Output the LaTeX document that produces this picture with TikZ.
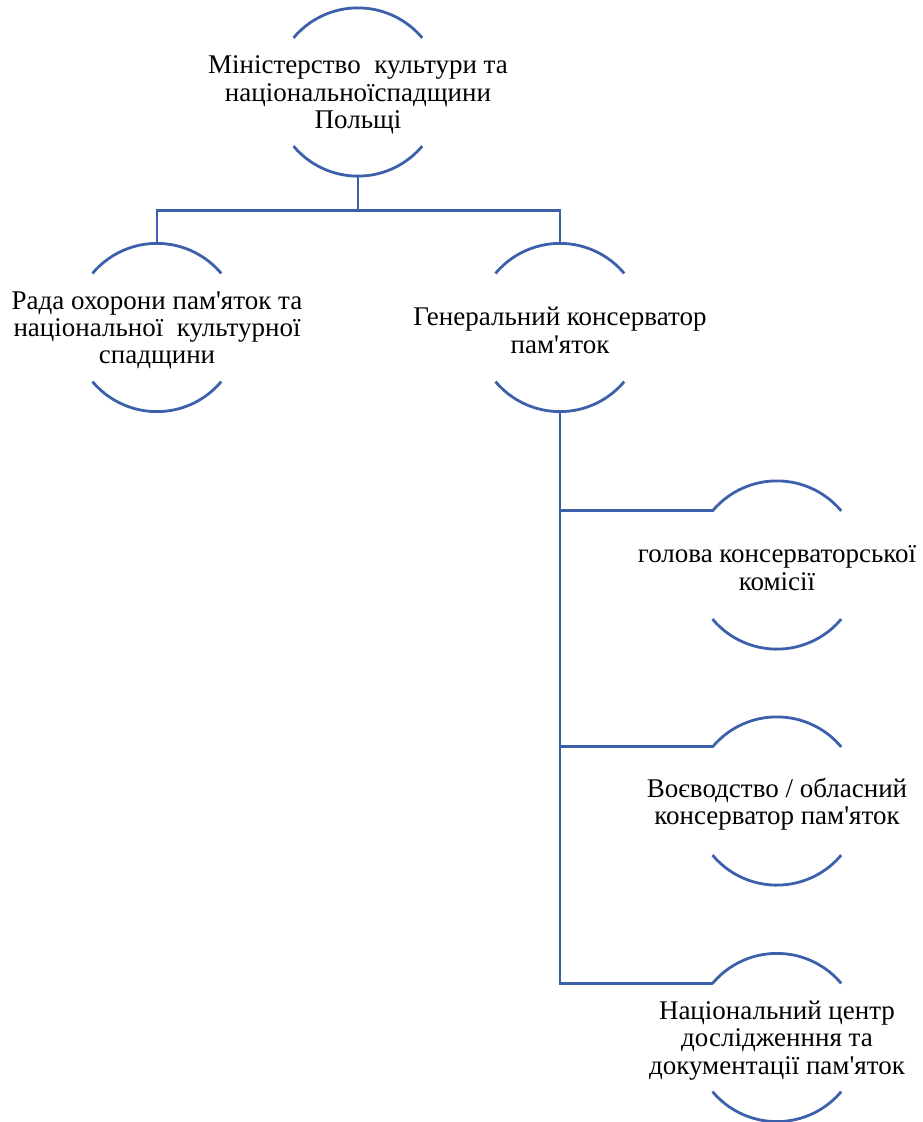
\documentclass[tikz,border=0pt]{standalone}
\usepackage{fontspec}
\setmainfont{Liberation Serif}[Ligatures=TeXOff]
\usepackage{xcolor}
\definecolor{orgLine}{RGB}{61,96,171}
\usetikzlibrary{positioning}
\tikzset{
  unit/.style={circle, minimum size=168pt, inner sep=0pt},
  unitText/.style={align=center, inner sep=0pt, yshift=-3pt, font=\fontsize{27}{27.3}\selectfont},
  link/.style={draw=orgLine, line width=2.8pt}
}

\begin{document}
\begin{tikzpicture}[x=1pt, y=-1pt, on grid, node distance=236pt]
    \useasboundingbox (0,0) rectangle (923,1122);
    \node [unit, label={[unitText]center:{Міністерство\ \ культури та\\національноїспадщини\\Польщі}}] (min) at (358,92) {};
    \node [unit, below left=235.5pt and 201pt of min, label={[unitText]center:{Рада охорони пам'яток та\\національної\ \ культурної\\спадщини}}] (rada) {};
    \node [unit, right=403pt of rada, label={[unitText]center:{Генеральний консерватор\\пам'яток}}] (gen) {};
    \node [unit, below right=237.5pt and 217pt of gen, label={[unitText]center:{голова консерваторської\\комісії}}] (holova) {};
    \node [unit, below of=holova, label={[unitText]center:{Воєводство / обласний\\консерватор пам'яток}}] (voev) {};
    \node [unit, below=236.5pt of voev, label={[unitText]center:{Національний центр\\дослідженння та\\документації пам'яток}}] (nats) {};
    \coordinate [below=34pt of min.south] (split);
    % arcs above and below each text
    \foreach \n in {min,rada,gen,holova,voev,nats} {
        \draw [link] (\n.140) arc[start angle=140, end angle=40, radius=84pt];
        \draw [link] (\n.-140) arc[start angle=-140, end angle=-40, radius=84pt];
    }
    \draw [link] (min.south) -- (split);
    \draw [link] (rada.north) |- (split) -| (gen.north);
    \draw [link] (gen.south) |- (holova.140);
    \draw [link] (gen.south) |- (voev.140);
    \draw [link] (gen.south) |- (nats.140);
\end{tikzpicture}
\end{document}
